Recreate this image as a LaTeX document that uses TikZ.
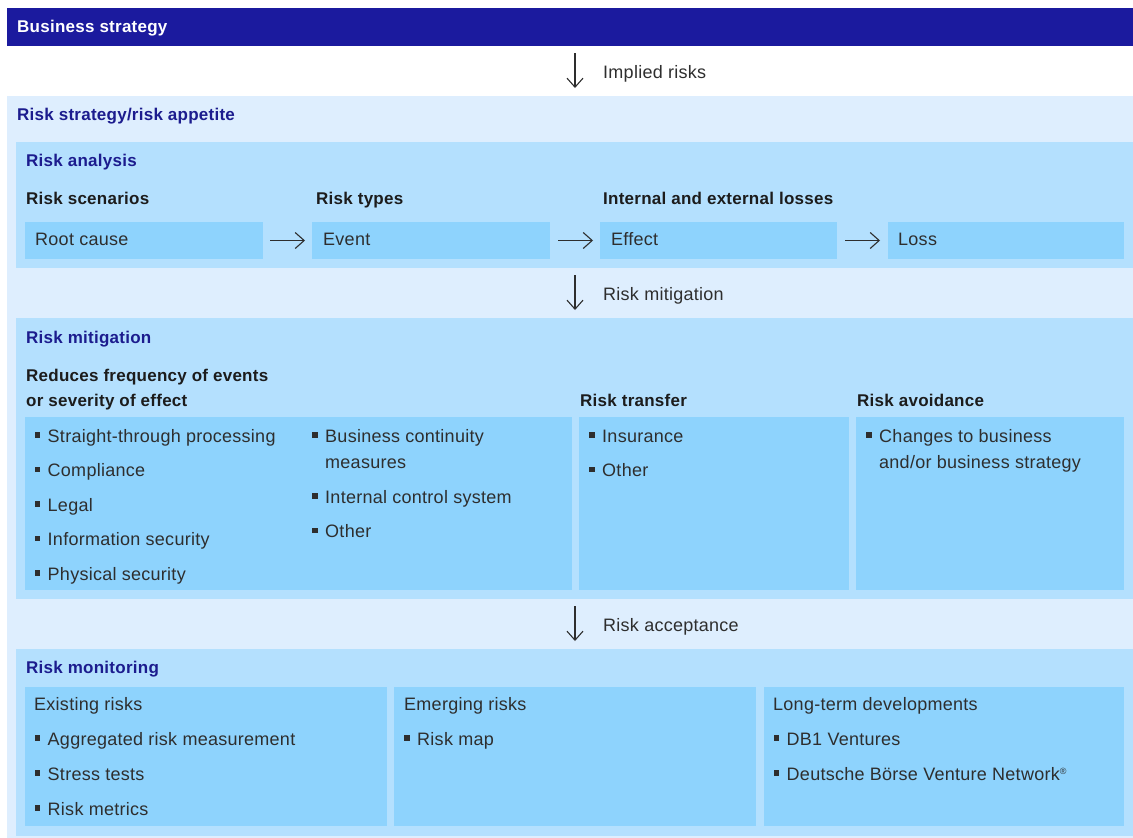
\documentclass[tikz,border=0pt]{standalone}
\usepackage{fontspec}
\setmainfont{Liberation Sans}[LetterSpace=1.5]
\usetikzlibrary{arrows.meta}
\definecolor{barblue}{HTML}{1B1A9E}
\definecolor{outerblue}{HTML}{DEEEFE}
\definecolor{panelblue}{HTML}{B4E0FE}
\definecolor{boxblue}{HTML}{8ED3FD}
\definecolor{ttlblue}{HTML}{1C1C8E}
\definecolor{hdblack}{HTML}{1C1C1C}
\definecolor{txtgrey}{HTML}{2E2E2E}
\newcommand\bul{\makebox[13pt][l]{\raisebox{4.5pt}{\rule{5.5pt}{5.5pt}}}}
\begin{document}
\begin{tikzpicture}[x=1pt,y=-1pt,
  pane/.style={draw=none, inner sep=0pt, outer sep=0pt, anchor=north west, fill=panelblue},
  boxst/.style={pane, fill=boxblue},
  txt/.style={anchor=base west, inner sep=0pt, font=\fontsize{18}{22}\selectfont, text=txtgrey},
  hd/.style={anchor=base west, inner sep=0pt, font=\fontsize{17}{22}\selectfont\bfseries, text=hdblack},
  ttl/.style={hd, text=ttlblue},
  arr/.style={-{Straight Barb[length=9pt,width=16pt]}, line width=1.1pt, draw=txtgrey}]
\useasboundingbox (0,0) rectangle (1133,838);
% outer region and bar
\node[pane, fill=outerblue, minimum width=1126pt, minimum height=742pt] (strat) at (7,96) {};
\node[pane, fill=barblue, minimum width=1126pt, minimum height=38pt] (bar) at (7,8) {};
\node[hd, text=white] (bartxt) at (17,32) {Business strategy};
\node[ttl] (strattxt) at (17,120) {Risk strategy/risk appetite};
\coordinate (ax) at (575,0);
\draw[arr, shorten <=7pt, shorten >=8pt] (bar.south -| ax) -- (strat.north -| ax);
\node[txt] (implied) at (603,78) {Implied risks};

% Risk analysis
\node[pane, minimum width=1117pt, minimum height=126pt] (ana) at (16,142) {};
\node[ttl] (anatxt) at (26,166) {Risk analysis};
\node[hd] (h1) at (26,204) {Risk scenarios};
\node[hd] (h2) at (316,204) {Risk types};
\node[hd] (h3) at (603,204) {Internal and external losses};
\node[boxst, minimum width=238pt, minimum height=37pt] (rc) at (25,222) {};
\node[boxst, minimum width=238pt, minimum height=37pt] (ev) at (312,222) {};
\node[boxst, minimum width=237pt, minimum height=37pt] (ef) at (600,222) {};
\node[boxst, minimum width=236pt, minimum height=37pt] (lo) at (888,222) {};
\node[txt] (rct) at (35,245) {Root cause};
\node[txt] (evt) at (323,245) {Event};
\node[txt] (eft) at (611,245) {Effect};
\node[txt] (lot) at (898,245) {Loss};
\draw[arr, shorten <=7pt, shorten >=7pt] (rc) -- (ev);
\draw[arr, shorten <=8pt, shorten >=7pt] (ev) -- (ef);
\draw[arr, shorten <=8pt, shorten >=8pt] (ef) -- (lo);

% Risk mitigation
\node[pane, minimum width=1117pt, minimum height=281pt] (mit) at (16,318) {};
\draw[arr, shorten <=7pt, shorten >=8pt] (ana.south -| ax) -- (mit.north -| ax);
\node[txt] (mitlbl) at (603,300) {Risk mitigation};
\node[ttl] (mittxt) at (26,343) {Risk mitigation};
\node[hd] (m1a) at (26,381) {Reduces frequency of events};
\node[hd] (m1b) at (26,406) {or severity of effect};
\node[hd] (m2h) at (580,406) {Risk transfer};
\node[hd] (m3h) at (857,406) {Risk avoidance};
\node[boxst, minimum width=547pt, minimum height=173pt] (mb1) at (25,417) {};
\node[boxst, minimum width=270pt, minimum height=173pt] (mb2) at (579,417) {};
\node[boxst, minimum width=268pt, minimum height=173pt] (mb3) at (856,417) {};
\node[txt] (a1) at (34.5,442) {\bul Straight-through processing};
\node[txt] (a2) at (34.5,476.5) {\bul Compliance};
\node[txt] (a3) at (34.5,511) {\bul Legal};
\node[txt] (a4) at (34.5,545.5) {\bul Information security};
\node[txt] (a5) at (34.5,580) {\bul Physical security};
\node[txt] (b1) at (312,442) {\bul Business continuity};
\node[txt] (b1b) at (325,468) {measures};
\node[txt] (b2) at (312,503) {\bul Internal control system};
\node[txt] (b3) at (312,537.5) {\bul Other};
\node[txt] (c1) at (589,442) {\bul Insurance};
\node[txt] (c2) at (589,476.5) {\bul Other};
\node[txt] (d1) at (866,442) {\bul Changes to business};
\node[txt] (d1b) at (879,468) {and/or business strategy};

% Risk monitoring
\node[pane, minimum width=1117pt, minimum height=187pt] (mon) at (16,649) {};
\draw[arr, shorten <=7pt, shorten >=8pt] (mit.south -| ax) -- (mon.north -| ax);
\node[txt] (acclbl) at (603,631) {Risk acceptance};
\node[ttl] (montxt) at (26,673) {Risk monitoring};
\node[boxst, minimum width=362pt, minimum height=139pt] (nb1) at (25,687) {};
\node[boxst, minimum width=362pt, minimum height=139pt] (nb2) at (394,687) {};
\node[boxst, minimum width=360pt, minimum height=139pt] (nb3) at (764,687) {};
\node[txt] (e0) at (34,710.5) {Existing risks};
\node[txt] (e1) at (34.5,745) {\bul Aggregated risk measurement};
\node[txt] (e2) at (34.5,780) {\bul Stress tests};
\node[txt] (e3) at (34.5,815) {\bul Risk metrics};
\node[txt] (f0) at (404,710.5) {Emerging risks};
\node[txt] (f1) at (404,745) {\bul Risk map};
\node[txt] (g0) at (773,710.5) {Long-term developments};
\node[txt] (g1) at (773.5,745) {\bul DB1 Ventures};
\node[txt] (g2) at (773.5,780) {\bul Deutsche Börse Venture Network\raisebox{6pt}{\fontsize{9}{9}\selectfont ®}};
\end{tikzpicture}
\end{document}
